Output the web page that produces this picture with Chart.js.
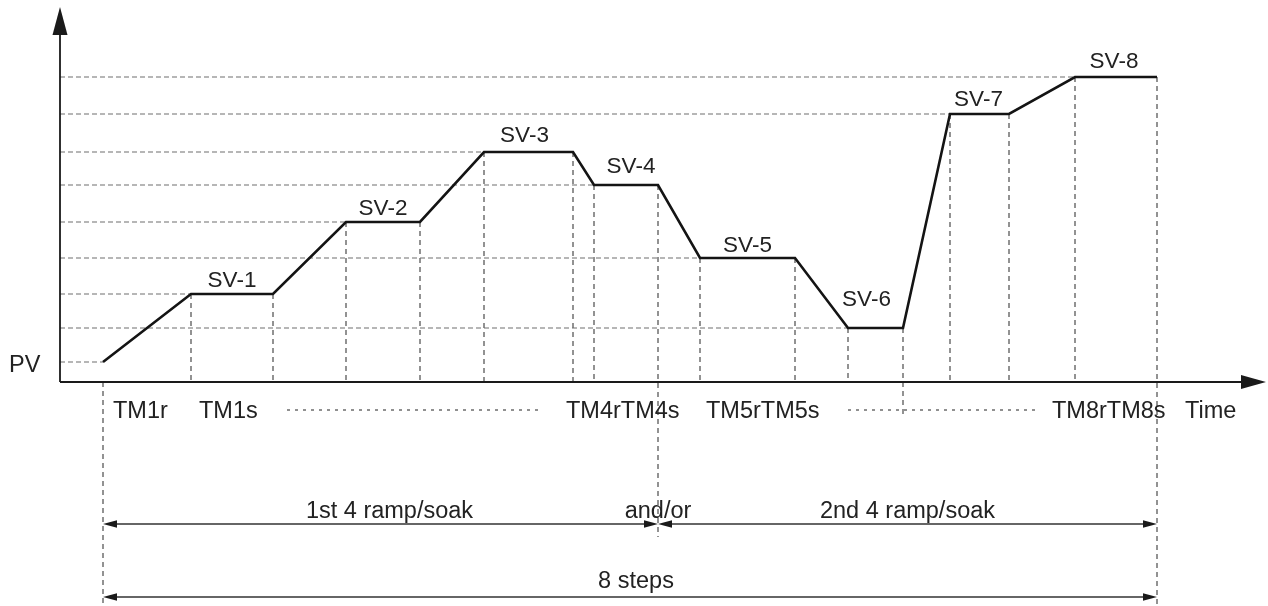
<!DOCTYPE html>
<html><head><meta charset="utf-8">
<script src="https://cdn.jsdelivr.net/npm/chart.js@4/dist/chart.umd.min.js"></script>
<style>html,body{margin:0;padding:0;background:#fff;}canvas{display:block;}</style>
</head><body>
<canvas id="c" width="1268" height="606"></canvas>
<script>
// ---- data (time units on x, process value units on y) ----
const levelNames = ['PV', 'SV-1', 'SV-2', 'SV-3', 'SV-4', 'SV-5', 'SV-6', 'SV-7', 'SV-8'];
const levels     = [2.0, 8.8, 16.0, 23.0, 19.7, 12.4, 5.4, 26.8, 30.5];
const rampEnd    = [4.3, 13.1, 28.6, 42.4, 53.4, 64.0, 78.8, 89.0, 101.5];
const soakEnd    = [4.3, 21.3, 36.0, 51.3, 59.8, 73.5, 84.3, 94.9, 109.7];
const timeLabels = ['TM1r', 'TM1s', 'TM4rTM4s', 'TM5rTM5s', 'TM8rTM8s', 'Time'];
const spanLabels = ['1st 4 ramp/soak', '2nd 4 ramp/soak', '8 steps'];
const spanStart  = [rampEnd[0], soakEnd[4], rampEnd[0]];
const spanEnd    = [soakEnd[4], soakEnd[8], soakEnd[8]];

// ---- layout (not data) ----
const X_MIN = -6.0, X_MAX = 120.8, Y_MIN = -22.4, Y_MAX = 38.2;
const timeLabelX = [5.3, 13.9, 50.6, 64.6, 99.2, 112.5];
const timeLabelY = -3.6;
const dottedRuns = [[22.7, 48.0], [78.8, 97.5]];
const dottedY = -2.8;
const spanRowY = [-14.2, -14.2, -21.5];
const spanTextDx = [9, 0, 6];   // pixel nudges
const labelDy = [0, 7, 7, 10, 12, 6, 22, 8, 9]; // pixel gap above level
const labelDx = [0, 0, 0, -4, 5, 0, -9, -1, -2];

const profile = [{x: rampEnd[0], y: levels[0]}];
for (let i = 1; i < levels.length; i++) {
  profile.push({x: rampEnd[i], y: levels[i]});
  profile.push({x: soakEnd[i], y: levels[i]});
}

const datasets = [];
function guide(pts, color, dash) {
  datasets.push({data: pts, borderColor: color, borderWidth: 1.1, borderDash: dash,
    pointRadius: 0, fill: false, tension: 0, order: 2});
}
// horizontal guides from axis to level reach
for (let i = 0; i < levels.length; i++) {
  guide([{x: 0, y: levels[i]}, {x: rampEnd[i], y: levels[i]}], '#6e6e6e', [5, 3]);
}
// vertical guides
for (let i = 1; i < levels.length; i++) {
  guide([{x: rampEnd[i], y: levels[i]}, {x: rampEnd[i], y: 0}], '#3a3a3a', [5, 4]);
  let bottom = 0;
  if (i === 4) bottom = -15.5;
  if (i === 6) bottom = -3.3;
  if (i === 8) bottom = Y_MIN;
  guide([{x: soakEnd[i], y: levels[i]}, {x: soakEnd[i], y: bottom}], '#3a3a3a', [5, 4]);
}
guide([{x: rampEnd[0], y: 0}, {x: rampEnd[0], y: Y_MIN}], '#3a3a3a', [5, 4]);
// dotted runs in the time label row
dottedRuns.forEach(r => guide([{x: r[0], y: dottedY}, {x: r[1], y: dottedY}], '#222', [3, 5]));

datasets.push({data: profile, borderColor: '#141414', borderWidth: 2.6, pointRadius: 0,
  fill: false, tension: 0, borderJoinStyle: 'miter', order: 0});

const FONT_SV = '22.5px "Liberation Sans", Arial, sans-serif';
const FONT_TX = '23.5px "Liberation Sans", Arial, sans-serif';

function tri(ctx, tipX, tipY, dir, len, half) {
  ctx.beginPath();
  if (dir === 'right') { ctx.moveTo(tipX, tipY); ctx.lineTo(tipX - len, tipY - half); ctx.lineTo(tipX - len, tipY + half); }
  if (dir === 'left')  { ctx.moveTo(tipX, tipY); ctx.lineTo(tipX + len, tipY - half); ctx.lineTo(tipX + len, tipY + half); }
  if (dir === 'up')    { ctx.moveTo(tipX, tipY); ctx.lineTo(tipX - half, tipY + len); ctx.lineTo(tipX + half, tipY + len); }
  ctx.closePath(); ctx.fill();
}

const decor = {
  id: 'decor',
  afterDatasetsDraw(chart) {
    const ctx = chart.ctx, xs = chart.scales.x, ys = chart.scales.y;
    const px = v => xs.getPixelForValue(v), py = v => ys.getPixelForValue(v);
    ctx.save();
    ctx.fillStyle = '#1a1a1a'; ctx.strokeStyle = '#1a1a1a';
    // axes
    ctx.lineWidth = 1.8;
    ctx.beginPath();
    ctx.moveTo(px(0), py(0)); ctx.lineTo(px(0), py(37.5) + 20);
    ctx.moveTo(px(0), py(0)); ctx.lineTo(px(120.6) - 20, py(0));
    ctx.stroke();
    tri(ctx, px(0), py(37.5), 'up', 28, 7.5);
    tri(ctx, px(120.6), py(0), 'right', 25, 7);
    // span arrows
    ctx.lineWidth = 1.4; ctx.strokeStyle = '#333'; ctx.fillStyle = '#1a1a1a';
    for (let i = 0; i < spanLabels.length; i++) {
      const a = px(spanStart[i]), b = px(spanEnd[i]), y = py(spanRowY[i]);
      ctx.beginPath(); ctx.moveTo(a + 8, y); ctx.lineTo(b - 8, y); ctx.stroke();
      tri(ctx, a, y, 'left', 14, 3.8);
      tri(ctx, b, y, 'right', 14, 3.8);
    }
    // texts
    ctx.fillStyle = '#222';
    ctx.textBaseline = 'alphabetic';
    ctx.font = FONT_SV; ctx.textAlign = 'center';
    for (let i = 1; i < levels.length; i++) {
      const cx = (px(rampEnd[i]) + px(soakEnd[i])) / 2 + labelDx[i];
      ctx.fillText(levelNames[i], cx, py(levels[i]) - labelDy[i]);
    }
    ctx.font = FONT_TX;
    ctx.textAlign = 'left';
    ctx.fillText(levelNames[0], 9, py(levels[0]) + 10);
    for (let i = 0; i < timeLabels.length; i++) {
      ctx.fillText(timeLabels[i], px(timeLabelX[i]), py(timeLabelY));
    }
    ctx.textAlign = 'center';
    for (let i = 0; i < spanLabels.length; i++) {
      const cx = (px(spanStart[i]) + px(spanEnd[i])) / 2 + spanTextDx[i];
      ctx.fillText(spanLabels[i], cx, py(spanRowY[i]) - 6 - (i === 2 ? 3 : 0));
    }
    ctx.fillText('and/or', px(soakEnd[4]), py(spanRowY[0]) - 6);
    ctx.restore();
  }
};

new Chart(document.getElementById('c'), {
  type: 'line',
  data: {datasets},
  options: {
    responsive: false, animation: false, devicePixelRatio: 1,
    layout: {padding: 0},
    plugins: {legend: {display: false}, tooltip: {enabled: false}, title: {display: false}},
    scales: {
      x: {type: 'linear', min: X_MIN, max: X_MAX, display: false},
      y: {type: 'linear', min: Y_MIN, max: Y_MAX, display: false}
    }
  },
  plugins: [decor]
});
</script>
</body></html>
